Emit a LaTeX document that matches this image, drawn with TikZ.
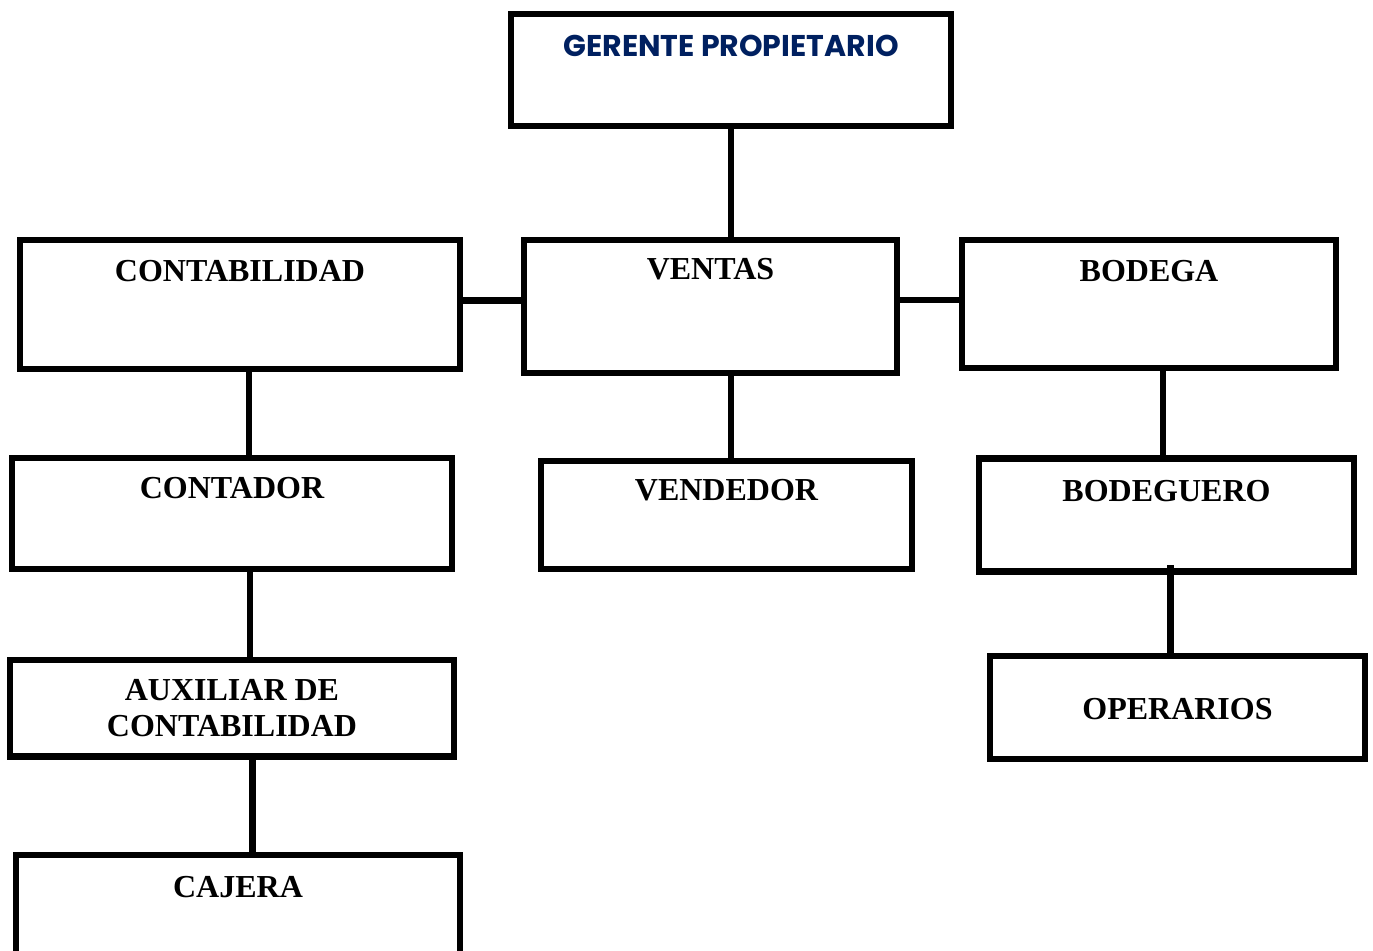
\documentclass[tikz,border=0pt]{standalone}
\usepackage{fontspec}
\setmainfont{Liberation Serif}
\newfontfamily\gothicfont{Poppins}
\usepackage{tikz}
\definecolor{navyblue}{RGB}{0,32,96}

\begin{document}
\begin{tikzpicture}
              [x=0.5pt,y=-0.5pt,
                every node/.style={rectangle,draw,line width=3.2pt,outer sep=0pt,inner sep=0pt,anchor=north,align=center,font=\bfseries\fontsize{16}{18}\selectfont},
                box/.style={minimum width=#1},
                conn/.style={line width=3.2pt}]
              \useasboundingbox (0,0) rectangle (1373,951);
              \node[box=220pt,text=navyblue,font=\gothicfont\bfseries\fontsize{15}{18}\selectfont,text height=21.5pt,text depth=34.5pt] (ger) at (731,14) {GERENTE PROPIETARIO};
              \node[box=220pt,text height=21pt,text depth=43.5pt] (con) at (240,240) {CONTABILIDAD};
              \node[box=186.5pt,text height=20pt,text depth=46.5pt] (ven) at (710.5,240) {VENTAS};
              \node[box=187pt,text height=21pt,text depth=43pt] (bod) at (1149,240) {BODEGA};
              \node[box=220pt,text height=20.5pt,text depth=35pt] (cdr) at (232,458) {CONTADOR};
              \node[box=185.5pt,text height=20pt,text depth=34pt] (vdd) at (726.5,461) {VENDEDOR};
              \node[box=187.5pt,text height=21.75pt,text depth=34.75pt] (bgr) at (1166.5,458.5) {BODEGUERO};
              \node[box=222pt,minimum height=48.25pt] (aux) at (232,660) {AUXILIAR DE\\CONTABILIDAD};
              \node[box=187.5pt,text height=32pt,text depth=19.5pt] (ope) at (1177.5,656) {OPERARIOS};
              \node[box=221.75pt,text height=21.5pt,text depth=35pt] (caj) at (238,855) {CAJERA};
              % lineas
              \draw[conn] (ger.south) -- (ger.south |- ven.north);
              \draw[conn] ([yshift=2pt]con.east) -- ([yshift=2pt]con.east -| ven.west);
              \draw[conn] ([yshift=3.25pt]ven.east) -- ([yshift=3.25pt]ven.east -| bod.west);
              \draw[conn] ([xshift=4.5pt]con.south) -- ([xshift=4.5pt]con.south |- cdr.north);
              \draw[conn] ([xshift=9pt,yshift=1pt]cdr.south) -- ([xshift=9pt]cdr.south |- aux.north);
              \draw[conn] ([xshift=10.25pt]aux.south) -- ([xshift=10.25pt]aux.south |- caj.north);
              \draw[conn] ([xshift=10.25pt]ven.south) -- ([xshift=10.25pt]ven.south |- vdd.north);
              \draw[conn] ([xshift=7pt]bod.south) -- ([xshift=7pt,yshift=-2pt]bod.south |- bgr.north);
              \draw[conn] ([xshift=2pt,yshift=3pt]bgr.south) -- ([xshift=2pt]bgr.south |- ope.north);
            \end{tikzpicture}
\end{document}
